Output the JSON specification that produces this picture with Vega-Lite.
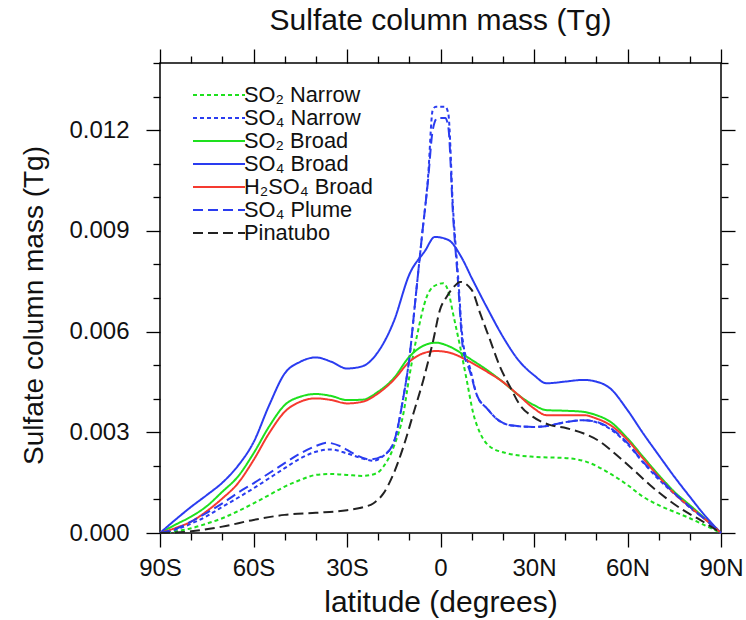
{
  "$schema": "https://vega.github.io/schema/vega-lite/v6.json",
  "width": 561,
  "height": 470,
  "autosize": "none",
  "padding": {"left": 160, "top": 63, "right": 25, "bottom": 87},
  "background": "white",
  "config": {
    "view": {"stroke": "#000", "strokeWidth": 1.5},
    "font": "Liberation Sans",
    "axis": {"grid": false, "domain": false, "tickColor": "#000", "tickWidth": 1.3, "labelColor": "#111", "titleColor": "#111", "labelFont": "Liberation Sans", "titleFont": "Liberation Sans", "titleFontWeight": "normal"}
  },
  "title": {"text": "Sulfate column mass (Tg)", "fontSize": 30, "fontWeight": "normal", "font": "Liberation Sans", "color": "#111", "anchor": "middle", "frame": "group", "offset": 12},
  "data": {"values": [
    {"s":"SO₂ Narrow","x":-90,"y":0},{"s":"SO₂ Narrow","x":-85,"y":0.00005},{"s":"SO₂ Narrow","x":-80,"y":0.00014},{"s":"SO₂ Narrow","x":-75,"y":0.00028},{"s":"SO₂ Narrow","x":-70,"y":0.00044},{"s":"SO₂ Narrow","x":-65,"y":0.00065},{"s":"SO₂ Narrow","x":-60,"y":0.00088},{"s":"SO₂ Narrow","x":-55,"y":0.00113},{"s":"SO₂ Narrow","x":-50,"y":0.00138},{"s":"SO₂ Narrow","x":-45,"y":0.00158},{"s":"SO₂ Narrow","x":-40,"y":0.00173},{"s":"SO₂ Narrow","x":-35,"y":0.00176},{"s":"SO₂ Narrow","x":-30,"y":0.00173},{"s":"SO₂ Narrow","x":-25,"y":0.0017},{"s":"SO₂ Narrow","x":-20.5,"y":0.00178},{"s":"SO₂ Narrow","x":-18.3,"y":0.00198},{"s":"SO₂ Narrow","x":-15,"y":0.00257},{"s":"SO₂ Narrow","x":-11.9,"y":0.00356},{"s":"SO₂ Narrow","x":-10,"y":0.00466},{"s":"SO₂ Narrow","x":-7.6,"y":0.00585},{"s":"SO₂ Narrow","x":-4.4,"y":0.00704},{"s":"SO₂ Narrow","x":-2.3,"y":0.00734},{"s":"SO₂ Narrow","x":0.9,"y":0.00744},{"s":"SO₂ Narrow","x":2.5,"y":0.0072},{"s":"SO₂ Narrow","x":4,"y":0.00655},{"s":"SO₂ Narrow","x":6.3,"y":0.00555},{"s":"SO₂ Narrow","x":8.4,"y":0.00456},{"s":"SO₂ Narrow","x":10.5,"y":0.00357},{"s":"SO₂ Narrow","x":12.7,"y":0.00298},{"s":"SO₂ Narrow","x":15.9,"y":0.00257},{"s":"SO₂ Narrow","x":21.2,"y":0.00238},{"s":"SO₂ Narrow","x":29.7,"y":0.00227},{"s":"SO₂ Narrow","x":40.5,"y":0.00223},{"s":"SO₂ Narrow","x":46.9,"y":0.00212},{"s":"SO₂ Narrow","x":53.3,"y":0.00183},{"s":"SO₂ Narrow","x":60,"y":0.00143},{"s":"SO₂ Narrow","x":65,"y":0.00108},{"s":"SO₂ Narrow","x":70,"y":0.00083},{"s":"SO₂ Narrow","x":75,"y":0.00063},{"s":"SO₂ Narrow","x":80,"y":0.00044},{"s":"SO₂ Narrow","x":85,"y":0.00022},{"s":"SO₂ Narrow","x":90,"y":0},

    {"s":"SO₄ Narrow","x":-90,"y":0},{"s":"SO₄ Narrow","x":-85,"y":0.0001},{"s":"SO₄ Narrow","x":-80,"y":0.00028},{"s":"SO₄ Narrow","x":-75,"y":0.0005},{"s":"SO₄ Narrow","x":-70,"y":0.00078},{"s":"SO₄ Narrow","x":-65,"y":0.00105},{"s":"SO₄ Narrow","x":-60,"y":0.00133},{"s":"SO₄ Narrow","x":-55,"y":0.00163},{"s":"SO₄ Narrow","x":-50,"y":0.00193},{"s":"SO₄ Narrow","x":-45,"y":0.00222},{"s":"SO₄ Narrow","x":-40,"y":0.00242},{"s":"SO₄ Narrow","x":-35,"y":0.00249},{"s":"SO₄ Narrow","x":-30,"y":0.00237},{"s":"SO₄ Narrow","x":-25,"y":0.00222},{"s":"SO₄ Narrow","x":-21.6,"y":0.00215},{"s":"SO₄ Narrow","x":-18.3,"y":0.0023},{"s":"SO₄ Narrow","x":-15,"y":0.0027},{"s":"SO₄ Narrow","x":-12,"y":0.004},{"s":"SO₄ Narrow","x":-10,"y":0.0052},{"s":"SO₄ Narrow","x":-8,"y":0.007},{"s":"SO₄ Narrow","x":-6,"y":0.0088},{"s":"SO₄ Narrow","x":-4,"y":0.0106},{"s":"SO₄ Narrow","x":-2.5,"y":0.0126},{"s":"SO₄ Narrow","x":-1.5,"y":0.0127},{"s":"SO₄ Narrow","x":1.5,"y":0.0127},{"s":"SO₄ Narrow","x":2.5,"y":0.0125},{"s":"SO₄ Narrow","x":4,"y":0.0097},{"s":"SO₄ Narrow","x":5.6,"y":0.0077},{"s":"SO₄ Narrow","x":7.2,"y":0.0057},{"s":"SO₄ Narrow","x":9.5,"y":0.0049},{"s":"SO₄ Narrow","x":11.7,"y":0.0041},{"s":"SO₄ Narrow","x":15,"y":0.0037},{"s":"SO₄ Narrow","x":18,"y":0.0034},{"s":"SO₄ Narrow","x":23,"y":0.0032},{"s":"SO₄ Narrow","x":30,"y":0.00316},{"s":"SO₄ Narrow","x":35,"y":0.0032},{"s":"SO₄ Narrow","x":40,"y":0.0033},{"s":"SO₄ Narrow","x":45.7,"y":0.00336},{"s":"SO₄ Narrow","x":50,"y":0.0033},{"s":"SO₄ Narrow","x":54.4,"y":0.0031},{"s":"SO₄ Narrow","x":60,"y":0.00265},{"s":"SO₄ Narrow","x":65,"y":0.0021},{"s":"SO₄ Narrow","x":70,"y":0.0016},{"s":"SO₄ Narrow","x":75,"y":0.00117},{"s":"SO₄ Narrow","x":80,"y":0.00076},{"s":"SO₄ Narrow","x":85,"y":0.0004},{"s":"SO₄ Narrow","x":90,"y":0},

    {"s":"SO₂ Broad","x":-90,"y":0},{"s":"SO₂ Broad","x":-85,"y":0.00025},{"s":"SO₂ Broad","x":-80,"y":0.00049},{"s":"SO₂ Broad","x":-75,"y":0.0008},{"s":"SO₂ Broad","x":-70,"y":0.00123},{"s":"SO₂ Broad","x":-65,"y":0.00168},{"s":"SO₂ Broad","x":-60,"y":0.00237},{"s":"SO₂ Broad","x":-55,"y":0.00317},{"s":"SO₂ Broad","x":-50,"y":0.00381},{"s":"SO₂ Broad","x":-45,"y":0.00406},{"s":"SO₂ Broad","x":-40,"y":0.00414},{"s":"SO₂ Broad","x":-35,"y":0.00408},{"s":"SO₂ Broad","x":-30,"y":0.00396},{"s":"SO₂ Broad","x":-25,"y":0.00397},{"s":"SO₂ Broad","x":-20,"y":0.00421},{"s":"SO₂ Broad","x":-15,"y":0.00461},{"s":"SO₂ Broad","x":-10,"y":0.00525},{"s":"SO₂ Broad","x":-5,"y":0.0056},{"s":"SO₂ Broad","x":-1.5,"y":0.00567},{"s":"SO₂ Broad","x":3,"y":0.00555},{"s":"SO₂ Broad","x":8.4,"y":0.00525},{"s":"SO₂ Broad","x":15,"y":0.00485},{"s":"SO₂ Broad","x":20,"y":0.0045},{"s":"SO₂ Broad","x":25,"y":0.00411},{"s":"SO₂ Broad","x":30,"y":0.00381},{"s":"SO₂ Broad","x":34,"y":0.00366},{"s":"SO₂ Broad","x":40.5,"y":0.00364},{"s":"SO₂ Broad","x":45.8,"y":0.00361},{"s":"SO₂ Broad","x":50,"y":0.00351},{"s":"SO₂ Broad","x":54.4,"y":0.00332},{"s":"SO₂ Broad","x":60,"y":0.00282},{"s":"SO₂ Broad","x":65,"y":0.00227},{"s":"SO₂ Broad","x":70,"y":0.00173},{"s":"SO₂ Broad","x":75,"y":0.00123},{"s":"SO₂ Broad","x":80,"y":0.00083},{"s":"SO₂ Broad","x":85,"y":0.00042},{"s":"SO₂ Broad","x":90,"y":0},

    {"s":"SO₄ Broad","x":-90,"y":0},{"s":"SO₄ Broad","x":-85,"y":0.0004},{"s":"SO₄ Broad","x":-80,"y":0.00078},{"s":"SO₄ Broad","x":-75,"y":0.00113},{"s":"SO₄ Broad","x":-70,"y":0.0015},{"s":"SO₄ Broad","x":-65,"y":0.002},{"s":"SO₄ Broad","x":-60,"y":0.0027},{"s":"SO₄ Broad","x":-55,"y":0.0038},{"s":"SO₄ Broad","x":-50,"y":0.00475},{"s":"SO₄ Broad","x":-45,"y":0.0051},{"s":"SO₄ Broad","x":-40,"y":0.00523},{"s":"SO₄ Broad","x":-35,"y":0.0051},{"s":"SO₄ Broad","x":-30,"y":0.0049},{"s":"SO₄ Broad","x":-25,"y":0.00497},{"s":"SO₄ Broad","x":-20,"y":0.0054},{"s":"SO₄ Broad","x":-15,"y":0.0063},{"s":"SO₄ Broad","x":-10,"y":0.0077},{"s":"SO₄ Broad","x":-5,"y":0.0084},{"s":"SO₄ Broad","x":-1.8,"y":0.00882},{"s":"SO₄ Broad","x":2.5,"y":0.00873},{"s":"SO₄ Broad","x":6.8,"y":0.0082},{"s":"SO₄ Broad","x":10,"y":0.0076},{"s":"SO₄ Broad","x":15,"y":0.0067},{"s":"SO₄ Broad","x":20,"y":0.00585},{"s":"SO₄ Broad","x":25,"y":0.00515},{"s":"SO₄ Broad","x":30,"y":0.0047},{"s":"SO₄ Broad","x":34,"y":0.00446},{"s":"SO₄ Broad","x":40,"y":0.00451},{"s":"SO₄ Broad","x":45.8,"y":0.00456},{"s":"SO₄ Broad","x":50,"y":0.00451},{"s":"SO₄ Broad","x":54.4,"y":0.00431},{"s":"SO₄ Broad","x":60,"y":0.00366},{"s":"SO₄ Broad","x":65,"y":0.00297},{"s":"SO₄ Broad","x":70,"y":0.00232},{"s":"SO₄ Broad","x":75,"y":0.00168},{"s":"SO₄ Broad","x":80,"y":0.00108},{"s":"SO₄ Broad","x":85,"y":0.0005},{"s":"SO₄ Broad","x":90,"y":0},

    {"s":"H₂SO₄ Broad","x":-90,"y":0},{"s":"H₂SO₄ Broad","x":-85,"y":0.00015},{"s":"H₂SO₄ Broad","x":-80,"y":0.00034},{"s":"H₂SO₄ Broad","x":-75,"y":0.00065},{"s":"H₂SO₄ Broad","x":-70,"y":0.00103},{"s":"H₂SO₄ Broad","x":-65,"y":0.00148},{"s":"H₂SO₄ Broad","x":-60,"y":0.00217},{"s":"H₂SO₄ Broad","x":-55,"y":0.00297},{"s":"H₂SO₄ Broad","x":-50,"y":0.00361},{"s":"H₂SO₄ Broad","x":-45,"y":0.00391},{"s":"H₂SO₄ Broad","x":-40,"y":0.00401},{"s":"H₂SO₄ Broad","x":-35,"y":0.00396},{"s":"H₂SO₄ Broad","x":-30,"y":0.00386},{"s":"H₂SO₄ Broad","x":-25,"y":0.00391},{"s":"H₂SO₄ Broad","x":-20,"y":0.00416},{"s":"H₂SO₄ Broad","x":-15,"y":0.00456},{"s":"H₂SO₄ Broad","x":-10,"y":0.0051},{"s":"H₂SO₄ Broad","x":-5,"y":0.00537},{"s":"H₂SO₄ Broad","x":-1.5,"y":0.00542},{"s":"H₂SO₄ Broad","x":3,"y":0.00537},{"s":"H₂SO₄ Broad","x":8.4,"y":0.00515},{"s":"H₂SO₄ Broad","x":15,"y":0.0048},{"s":"H₂SO₄ Broad","x":20,"y":0.0045},{"s":"H₂SO₄ Broad","x":25,"y":0.00411},{"s":"H₂SO₄ Broad","x":30,"y":0.00371},{"s":"H₂SO₄ Broad","x":34,"y":0.00351},{"s":"H₂SO₄ Broad","x":40,"y":0.00351},{"s":"H₂SO₄ Broad","x":46,"y":0.00351},{"s":"H₂SO₄ Broad","x":50,"y":0.00341},{"s":"H₂SO₄ Broad","x":54.4,"y":0.00322},{"s":"H₂SO₄ Broad","x":60,"y":0.00277},{"s":"H₂SO₄ Broad","x":65,"y":0.00222},{"s":"H₂SO₄ Broad","x":70,"y":0.00168},{"s":"H₂SO₄ Broad","x":75,"y":0.00118},{"s":"H₂SO₄ Broad","x":80,"y":0.00078},{"s":"H₂SO₄ Broad","x":85,"y":0.0004},{"s":"H₂SO₄ Broad","x":90,"y":0},

    {"s":"SO₄ Plume","x":-90,"y":0},{"s":"SO₄ Plume","x":-85,"y":0.00012},{"s":"SO₄ Plume","x":-80,"y":0.00034},{"s":"SO₄ Plume","x":-75,"y":0.0006},{"s":"SO₄ Plume","x":-70,"y":0.00088},{"s":"SO₄ Plume","x":-65,"y":0.0012},{"s":"SO₄ Plume","x":-60,"y":0.00148},{"s":"SO₄ Plume","x":-55,"y":0.00178},{"s":"SO₄ Plume","x":-50,"y":0.00208},{"s":"SO₄ Plume","x":-45,"y":0.00237},{"s":"SO₄ Plume","x":-40,"y":0.00259},{"s":"SO₄ Plume","x":-36.5,"y":0.00269},{"s":"SO₄ Plume","x":-32,"y":0.00258},{"s":"SO₄ Plume","x":-28,"y":0.00237},{"s":"SO₄ Plume","x":-22.6,"y":0.00219},{"s":"SO₄ Plume","x":-18.3,"y":0.00231},{"s":"SO₄ Plume","x":-15,"y":0.0027},{"s":"SO₄ Plume","x":-12,"y":0.004},{"s":"SO₄ Plume","x":-10,"y":0.0052},{"s":"SO₄ Plume","x":-8,"y":0.007},{"s":"SO₄ Plume","x":-6,"y":0.0088},{"s":"SO₄ Plume","x":-4,"y":0.0105},{"s":"SO₄ Plume","x":-2.5,"y":0.012},{"s":"SO₄ Plume","x":-1,"y":0.01236},{"s":"SO₄ Plume","x":1.5,"y":0.01236},{"s":"SO₄ Plume","x":2.5,"y":0.0121},{"s":"SO₄ Plume","x":4,"y":0.0095},{"s":"SO₄ Plume","x":5.6,"y":0.0075},{"s":"SO₄ Plume","x":7.2,"y":0.0055},{"s":"SO₄ Plume","x":9.5,"y":0.0048},{"s":"SO₄ Plume","x":11.7,"y":0.0041},{"s":"SO₄ Plume","x":15,"y":0.0037},{"s":"SO₄ Plume","x":18,"y":0.0034},{"s":"SO₄ Plume","x":23,"y":0.0032},{"s":"SO₄ Plume","x":30,"y":0.00316},{"s":"SO₄ Plume","x":35,"y":0.0032},{"s":"SO₄ Plume","x":40,"y":0.0033},{"s":"SO₄ Plume","x":45.7,"y":0.00336},{"s":"SO₄ Plume","x":50,"y":0.00331},{"s":"SO₄ Plume","x":54.4,"y":0.00313},{"s":"SO₄ Plume","x":60,"y":0.00268},{"s":"SO₄ Plume","x":65,"y":0.00212},{"s":"SO₄ Plume","x":70,"y":0.00164},{"s":"SO₄ Plume","x":75,"y":0.00119},{"s":"SO₄ Plume","x":80,"y":0.00078},{"s":"SO₄ Plume","x":85,"y":0.0004},{"s":"SO₄ Plume","x":90,"y":0},

    {"s":"Pinatubo","x":-90,"y":0},{"s":"Pinatubo","x":-80,"y":0.00005},{"s":"Pinatubo","x":-70,"y":0.00019},{"s":"Pinatubo","x":-60,"y":0.00039},{"s":"Pinatubo","x":-50,"y":0.00054},{"s":"Pinatubo","x":-40,"y":0.0006},{"s":"Pinatubo","x":-30,"y":0.00068},{"s":"Pinatubo","x":-24.8,"y":0.00077},{"s":"Pinatubo","x":-21.6,"y":0.00088},{"s":"Pinatubo","x":-18.3,"y":0.00118},{"s":"Pinatubo","x":-15,"y":0.00178},{"s":"Pinatubo","x":-11.9,"y":0.00257},{"s":"Pinatubo","x":-8.7,"y":0.00356},{"s":"Pinatubo","x":-5.5,"y":0.00456},{"s":"Pinatubo","x":-2.3,"y":0.00575},{"s":"Pinatubo","x":-0.2,"y":0.00664},{"s":"Pinatubo","x":2,"y":0.00704},{"s":"Pinatubo","x":4,"y":0.0073},{"s":"Pinatubo","x":6.3,"y":0.00748},{"s":"Pinatubo","x":10,"y":0.00724},{"s":"Pinatubo","x":12.7,"y":0.00655},{"s":"Pinatubo","x":15.9,"y":0.00575},{"s":"Pinatubo","x":19.1,"y":0.00495},{"s":"Pinatubo","x":22.3,"y":0.00436},{"s":"Pinatubo","x":25.5,"y":0.00381},{"s":"Pinatubo","x":29.7,"y":0.00346},{"s":"Pinatubo","x":35,"y":0.00322},{"s":"Pinatubo","x":40.5,"y":0.00312},{"s":"Pinatubo","x":45.8,"y":0.00297},{"s":"Pinatubo","x":51.2,"y":0.00272},{"s":"Pinatubo","x":56.5,"y":0.00232},{"s":"Pinatubo","x":61.9,"y":0.00188},{"s":"Pinatubo","x":67.2,"y":0.00143},{"s":"Pinatubo","x":72.5,"y":0.00103},{"s":"Pinatubo","x":77.9,"y":0.00068},{"s":"Pinatubo","x":83.3,"y":0.00039},{"s":"Pinatubo","x":90,"y":0}
  ]},
  "layer": [
    {
      "mark": {"type": "line", "strokeWidth": 2, "interpolate": "monotone"},
      "encoding": {
        "x": {"field": "x", "type": "quantitative", "scale": {"domain": [-90, 90], "nice": false, "zero": false},
          "axis": {"orient": "bottom", "values": [-90, -60, -30, 0, 30, 60, 90], "labelExpr": "datum.value == 0 ? '0' : (datum.value < 0 ? (-datum.value) + 'S' : datum.value + 'N')", "tickSize": 14, "labelFontSize": 24, "labelPadding": 9, "labelFlush": false, "labelOverlap": false, "title": "latitude (degrees)", "titleFontSize": 30, "titleY": 78, "titleBaseline": "alphabetic"}},
        "y": {"field": "y", "type": "quantitative", "scale": {"domain": [0, 0.014], "nice": false},
          "axis": {"orient": "left", "values": [0, 0.003, 0.006, 0.009, 0.012], "format": ".3f", "tickSize": 14, "labelFontSize": 24, "labelPadding": 17, "labelFlush": false, "labelOverlap": false, "title": "Sulfate column mass (Tg)", "titleFontSize": 28, "titleAngle": 270, "titleX": -118, "titleY": 242, "titleBaseline": "alphabetic", "titleAlign": "center"}},
        "color": {"field": "s", "type": "nominal",
          "scale": {"domain": ["SO₂ Narrow", "SO₄ Narrow", "SO₂ Broad", "SO₄ Broad", "H₂SO₄ Broad", "SO₄ Plume", "Pinatubo"], "range": ["#1ee01e", "#2a3cf0", "#1ee01e", "#2a3cf0", "#f53a30", "#2a3cf0", "#222222"]},
          "legend": {"orient": "none", "legendX": 32, "legendY": 21, "title": null, "symbolType": "M-1,0H4.2", "symbolSize": 400, "symbolStrokeWidth": 2, "labelFontSize": 21.8, "labelOffset": 30, "rowPadding": 0, "padding": 0, "labelFont": "Liberation Sans", "labelColor": "#111"}},
        "strokeDash": {"field": "s", "type": "nominal",
          "scale": {"domain": ["SO₂ Narrow", "SO₄ Narrow", "SO₂ Broad", "SO₄ Broad", "H₂SO₄ Broad", "SO₄ Plume", "Pinatubo"], "range": [[4, 3], [4, 3], [1, 0], [1, 0], [1, 0], [10, 5], [10, 5]]},
          "legend": {"orient": "none", "legendX": 32, "legendY": 21, "title": null, "symbolType": "M-1,0H4.2", "symbolSize": 400, "symbolStrokeWidth": 2, "labelFontSize": 21.8, "labelOffset": 30, "rowPadding": 0, "padding": 0, "labelFont": "Liberation Sans", "labelColor": "#111"}}
      }
    },
    {
      "mark": {"type": "line", "opacity": 0},
      "encoding": {
        "x": {"field": "x", "type": "quantitative", "axis": {"orient": "bottom", "values": [-80, -70, -50, -40, -20, -10, 10, 20, 40, 50, 70, 80], "labels": false, "tickSize": 7, "title": null}},
        "y": {"field": "y", "type": "quantitative", "axis": {"orient": "left", "values": [0.001, 0.002, 0.004, 0.005, 0.007, 0.008, 0.01, 0.011, 0.013, 0.014], "labels": false, "tickSize": 7, "title": null}},
        "detail": {"field": "s"}
      }
    },
    {
      "mark": {"type": "line", "opacity": 0},
      "encoding": {
        "x": {"field": "x", "type": "quantitative", "axis": {"orient": "top", "values": [-90, -60, -30, 0, 30, 60, 90], "labels": false, "tickSize": 14, "title": null}},
        "y": {"field": "y", "type": "quantitative", "axis": {"orient": "right", "values": [0, 0.003, 0.006, 0.009, 0.012], "labels": false, "tickSize": 14, "title": null}},
        "detail": {"field": "s"}
      }
    },
    {
      "mark": {"type": "line", "opacity": 0},
      "encoding": {
        "x": {"field": "x", "type": "quantitative", "axis": {"orient": "top", "values": [-80, -70, -50, -40, -20, -10, 10, 20, 40, 50, 70, 80], "labels": false, "tickSize": 7, "title": null}},
        "y": {"field": "y", "type": "quantitative", "axis": {"orient": "right", "values": [0.001, 0.002, 0.004, 0.005, 0.007, 0.008, 0.01, 0.011, 0.013, 0.014], "labels": false, "tickSize": 7, "title": null}},
        "detail": {"field": "s"}
      }
    }
  ],
  "resolve": {"axis": {"x": "independent", "y": "independent"}}
}
